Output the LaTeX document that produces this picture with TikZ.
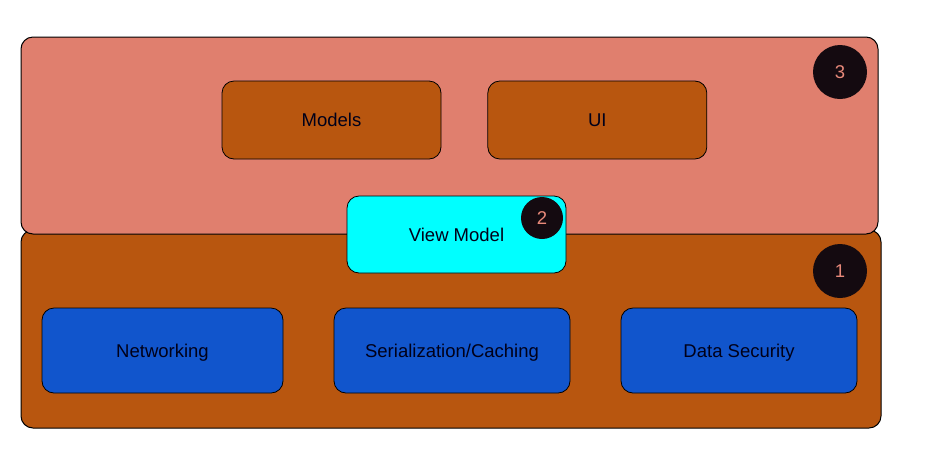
\documentclass[tikz,border=0pt]{standalone}
\usepackage{fontspec}
\setmainfont{Liberation Sans}
\usetikzlibrary{positioning}

\definecolor{salmon}{HTML}{E07F6E}
\definecolor{rust}{HTML}{B8560F}
\definecolor{bluebox}{HTML}{1155CC}
\definecolor{cyanbox}{HTML}{00FFFF}
\definecolor{badgefill}{HTML}{140A10}
\definecolor{badgetext}{HTML}{E8897A}

\begin{document}
\begin{tikzpicture}[x=1pt,y=-1pt,
   layer/.style={draw=black,line width=1pt,rounded corners=12pt,inner sep=0pt},
   module/.style={draw=black,line width=0.8pt,rounded corners=12pt,inner sep=0pt,
      font=\fontsize{18.5}{22}\selectfont,text=black!90!blue,
      text height=13.3pt,text depth=0pt},
   badge/.style={circle,fill=badgefill,inner sep=0pt,
      font=\fontsize{18.5}{22}\selectfont,text=badgetext,
      text height=13.3pt,text depth=0pt}]
   \useasboundingbox (0,0) rectangle (952,459);
   % layers
   \node[layer,fill=rust,minimum width=860pt,minimum height=198pt] (core) at (451,329) {};
   \node[layer,fill=salmon,minimum width=857pt,minimum height=197pt] (top) at (449.5,135.5) {};
   % upper modules
   \node[module,fill=rust,minimum width=219pt,minimum height=78pt] (models) at (331.5,120) {Models};
   \node[module,fill=rust,minimum width=219pt,minimum height=78pt] (ui) [right=46pt of models] {UI};
   \node[module,fill=cyanbox,minimum width=219pt,minimum height=77pt] (vm) at (456.5,234.5) {View Model};
   % lower modules
   \node[module,fill=bluebox,minimum width=241pt,minimum height=85pt] (net) at (162.5,350.5) {Networking};
   \node[module,fill=bluebox,minimum width=236pt,minimum height=85pt] (ser) at (452,350.5) {Serialization/Caching};
   \node[module,fill=bluebox,minimum width=236pt,minimum height=85pt] (sec) at (739,350.5) {Data Security};
   % badges
   \node[badge,minimum size=54pt] (b3) at (840,72) {3};
   \node[badge,minimum size=54pt] (b1) at (840,271) {1};
   \node[badge,minimum size=42pt] (b2) at (542,218) {2};
\end{tikzpicture}
\end{document}
